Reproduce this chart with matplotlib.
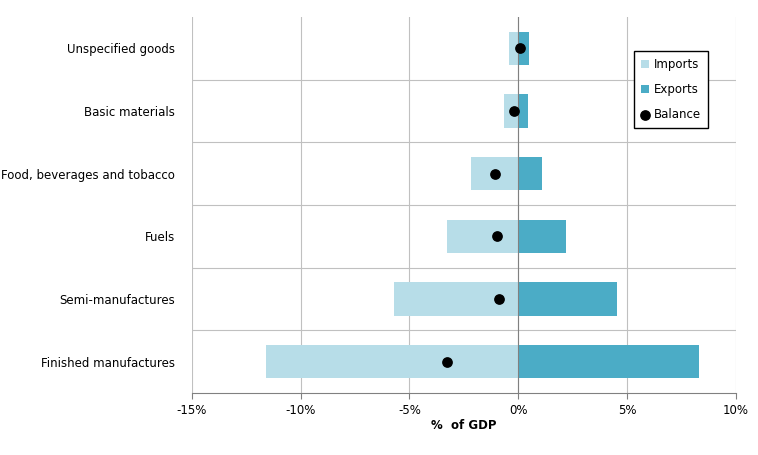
import matplotlib.pyplot as plt
import matplotlib.ticker as mticker

categories = ["Unspecified goods", "Basic materials", "Food, beverages and tobacco",
              "Fuels", "Semi-manufactures", "Finished manufactures"]
imports = [-0.41, -0.64, -2.16, -3.26, -5.7, -11.58]
exports = [0.5, 0.46, 1.1, 2.2, 4.55, 8.32]
balance = [0.1, -0.18, -1.06, -0.97, -0.87, -3.26]

fig = plt.figure(figsize=(7.58, 4.55), dpi=100)
ax = fig.add_axes([0.253, 0.136, 0.718, 0.827])

y = list(range(len(categories)))[::-1]
b1 = ax.barh(y, imports, height=0.53, color="#b7dde8", label="Imports", zorder=2)
b2 = ax.barh(y, exports, height=0.53, color="#4bacc6", label="Exports", zorder=2)
sc = ax.scatter(balance, y, s=45, color="black", label="Balance", zorder=3)

ax.set_xlim(-15, 10)
ax.set_ylim(-0.5, len(categories) - 0.5)
ax.set_xticks([-15, -10, -5, 0, 5, 10])
ax.xaxis.set_major_formatter(mticker.FuncFormatter(lambda v, p: f"{v:.0f}%"))
ax.set_yticks(y)
ax.set_yticklabels(categories)
ax.set_yticks([i + 0.5 for i in range(len(categories) - 1)], minor=True)
ax.tick_params(axis="y", which="both", length=0, labelsize=8.5, pad=12)
ax.tick_params(axis="x", labelsize=8.5, length=4, color="#808080")
ax.grid(axis="x", color="#c0c0c0", linewidth=0.8, zorder=0)
ax.grid(axis="y", which="minor", color="#c0c0c0", linewidth=0.8, zorder=0)
ax.axvline(0, color="#808080", linewidth=0.8, zorder=2.5)
for side in ["top", "right", "left"]:
    ax.spines[side].set_visible(False)
ax.spines["bottom"].set_color("#808080")
ax.set_xlabel("%  of GDP", fontsize=8.5, fontweight="bold", labelpad=2)

leg = ax.legend([b1, b2, sc], ["Imports", "Exports", "Balance"],
                loc="upper right", bbox_to_anchor=(0.96, 0.925), fontsize=8.5,
                fancybox=False, edgecolor="black", handlelength=0.7, handleheight=0.7,
                labelspacing=1.0, borderpad=0.6, framealpha=1, handletextpad=0.4)
leg.get_frame().set_linewidth(1)

fig.savefig("out.png", dpi=100)
